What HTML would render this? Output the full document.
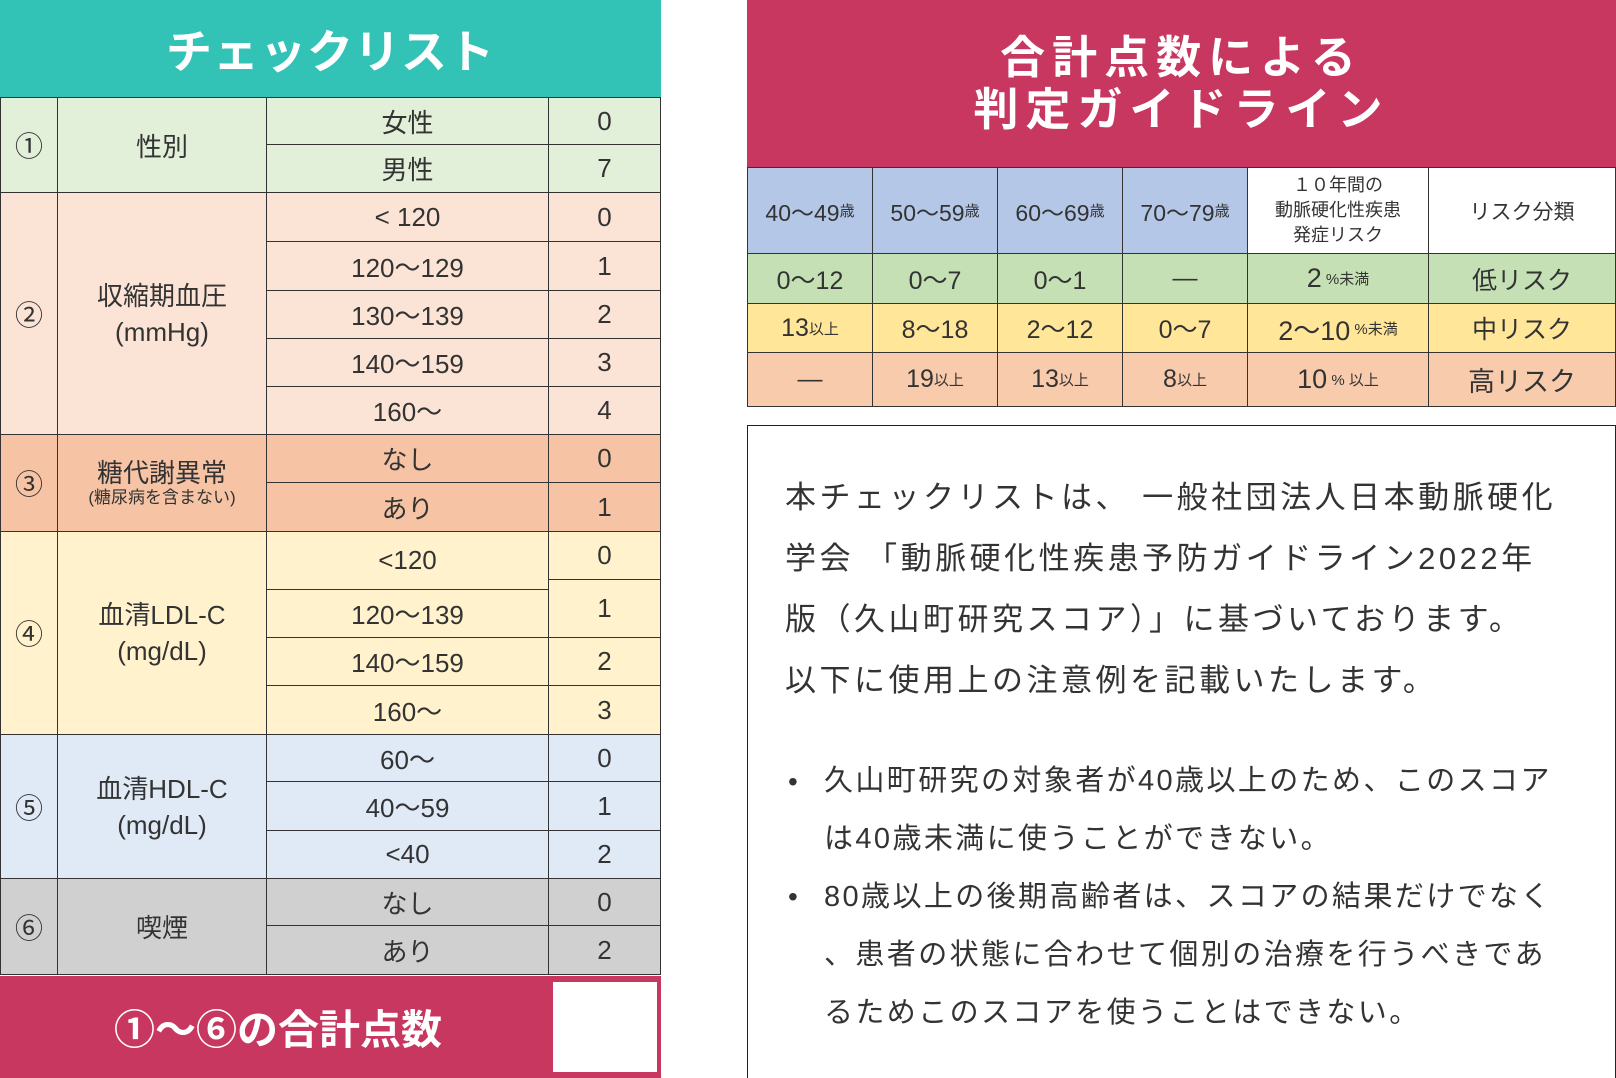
<!DOCTYPE html>
<html><head><meta charset="utf-8"><style>
*{margin:0;padding:0;box-sizing:border-box}
body{width:1616px;height:1078px;background:#fff;position:relative;overflow:hidden;font-family:"Liberation Sans","Noto Sans CJK JP",sans-serif;color:#333}
.a{position:absolute;display:flex;align-items:center;justify-content:center;text-align:center;border:1.5px solid #333}
.t{position:absolute;white-space:nowrap}
.p{letter-spacing:3.5px}
.b{letter-spacing:2.4px}
</style></head><body>
<div class="a" style="left:0;top:0;width:661px;height:97px;background:#33c3b6;border:none;color:#fff;font-size:46px;font-weight:bold;letter-spacing:1px">チェックリスト</div>

<div class="a" style="left:0;top:97px;width:58px;height:96px;background:#e2efd9;font-size:28px">①</div>
<div class="a" style="left:57px;top:97px;width:210px;height:96px;background:#e2efd9;font-size:26px">性別</div>
<div class="a" style="left:266px;top:97px;width:283px;height:48px;background:#e2efd9;font-size:26px">女性</div>
<div class="a" style="left:548px;top:97px;width:113px;height:48px;background:#e2efd9;font-size:26px">0</div>
<div class="a" style="left:266px;top:144px;width:283px;height:49px;background:#e2efd9;font-size:26px">男性</div>
<div class="a" style="left:548px;top:144px;width:113px;height:49px;background:#e2efd9;font-size:26px">7</div>

<div class="a" style="left:0;top:192px;width:58px;height:243px;background:#fbe4d6;font-size:28px">②</div>
<div class="a" style="left:57px;top:192px;width:210px;height:243px;background:#fbe4d6;font-size:26px;line-height:36px">収縮期血圧<br>(mmHg)</div>
<div class="a" style="left:266px;top:192px;width:283px;height:50px;background:#fbe4d6;font-size:26px">&lt; 120</div>
<div class="a" style="left:548px;top:192px;width:113px;height:50px;background:#fbe4d6;font-size:26px">0</div>
<div class="a" style="left:266px;top:241px;width:283px;height:50px;background:#fbe4d6;font-size:26px">120～129</div>
<div class="a" style="left:548px;top:241px;width:113px;height:50px;background:#fbe4d6;font-size:26px">1</div>
<div class="a" style="left:266px;top:290px;width:283px;height:49px;background:#fbe4d6;font-size:26px">130～139</div>
<div class="a" style="left:548px;top:290px;width:113px;height:49px;background:#fbe4d6;font-size:26px">2</div>
<div class="a" style="left:266px;top:338px;width:283px;height:49px;background:#fbe4d6;font-size:26px">140～159</div>
<div class="a" style="left:548px;top:338px;width:113px;height:49px;background:#fbe4d6;font-size:26px">3</div>
<div class="a" style="left:266px;top:386px;width:283px;height:49px;background:#fbe4d6;font-size:26px">160～</div>
<div class="a" style="left:548px;top:386px;width:113px;height:49px;background:#fbe4d6;font-size:26px">4</div>

<div class="a" style="left:0;top:434px;width:58px;height:98px;background:#f6c4a5;font-size:28px">③</div>
<div class="a" style="left:57px;top:434px;width:210px;height:98px;background:#f6c4a5;font-size:26px;flex-direction:column;line-height:30px">糖代謝異常<span style="font-size:17px;line-height:20px">(糖尿病を含まない)</span></div>
<div class="a" style="left:266px;top:434px;width:283px;height:49px;background:#f6c4a5;font-size:26px">なし</div>
<div class="a" style="left:548px;top:434px;width:113px;height:49px;background:#f6c4a5;font-size:26px">0</div>
<div class="a" style="left:266px;top:482px;width:283px;height:50px;background:#f6c4a5;font-size:26px">あり</div>
<div class="a" style="left:548px;top:482px;width:113px;height:50px;background:#f6c4a5;font-size:26px">1</div>

<div class="a" style="left:0;top:531px;width:58px;height:204px;background:#fff2cc;font-size:28px">④</div>
<div class="a" style="left:57px;top:531px;width:210px;height:204px;background:#fff2cc;font-size:26px;line-height:36px">血清LDL-C<br>(mg/dL)</div>
<div class="a" style="left:266px;top:531px;width:283px;height:59px;background:#fff2cc;font-size:26px">&lt;120</div>
<div class="a" style="left:548px;top:531px;width:113px;height:49px;background:#fff2cc;font-size:26px">0</div>
<div class="a" style="left:266px;top:589px;width:283px;height:49px;background:#fff2cc;font-size:26px">120～139</div>
<div class="a" style="left:548px;top:579px;width:113px;height:59px;background:#fff2cc;font-size:26px">1</div>
<div class="a" style="left:266px;top:637px;width:283px;height:49px;background:#fff2cc;font-size:26px">140～159</div>
<div class="a" style="left:548px;top:637px;width:113px;height:49px;background:#fff2cc;font-size:26px">2</div>
<div class="a" style="left:266px;top:685px;width:283px;height:50px;background:#fff2cc;font-size:26px">160～</div>
<div class="a" style="left:548px;top:685px;width:113px;height:50px;background:#fff2cc;font-size:26px">3</div>

<div class="a" style="left:0;top:734px;width:58px;height:145px;background:#dfeaf6;font-size:28px">⑤</div>
<div class="a" style="left:57px;top:734px;width:210px;height:145px;background:#dfeaf6;font-size:26px;line-height:36px">血清HDL-C<br>(mg/dL)</div>
<div class="a" style="left:266px;top:734px;width:283px;height:48px;background:#dfeaf6;font-size:26px">60～</div>
<div class="a" style="left:548px;top:734px;width:113px;height:48px;background:#dfeaf6;font-size:26px">0</div>
<div class="a" style="left:266px;top:781px;width:283px;height:50px;background:#dfeaf6;font-size:26px">40～59</div>
<div class="a" style="left:548px;top:781px;width:113px;height:50px;background:#dfeaf6;font-size:26px">1</div>
<div class="a" style="left:266px;top:830px;width:283px;height:49px;background:#dfeaf6;font-size:26px">&lt;40</div>
<div class="a" style="left:548px;top:830px;width:113px;height:49px;background:#dfeaf6;font-size:26px">2</div>

<div class="a" style="left:0;top:878px;width:58px;height:97px;background:#d0d0d0;font-size:28px">⑥</div>
<div class="a" style="left:57px;top:878px;width:210px;height:97px;background:#d0d0d0;font-size:26px">喫煙</div>
<div class="a" style="left:266px;top:878px;width:283px;height:48px;background:#d0d0d0;font-size:26px">なし</div>
<div class="a" style="left:548px;top:878px;width:113px;height:48px;background:#d0d0d0;font-size:26px">0</div>
<div class="a" style="left:266px;top:925px;width:283px;height:50px;background:#d0d0d0;font-size:26px">あり</div>
<div class="a" style="left:548px;top:925px;width:113px;height:50px;background:#d0d0d0;font-size:26px">2</div>

<div class="a" style="left:0;top:976px;width:661px;height:102px;background:#c8375f;border:none"></div>
<div class="t" style="left:114px;top:996px;color:#fff;font-size:41px;font-weight:bold">①～⑥の合計点数</div>
<div style="position:absolute;left:553px;top:982px;width:104px;height:90px;background:#fff"></div>

<div class="a" style="left:747px;top:0;width:869px;height:167px;background:#c8375f;border:none;color:#fff;font-size:45px;font-weight:bold;letter-spacing:7px;line-height:52px">合計点数による<br>判定ガイドライン</div>

<div class="a" style="left:747px;top:167px;width:126px;height:87px;background:#b4c7e7;font-size:23px">40～49<small style="font-size:15px">歳</small></div>
<div class="a" style="left:872px;top:167px;width:126px;height:87px;background:#b4c7e7;font-size:23px">50～59<small style="font-size:15px">歳</small></div>
<div class="a" style="left:997px;top:167px;width:126px;height:87px;background:#b4c7e7;font-size:23px">60～69<small style="font-size:15px">歳</small></div>
<div class="a" style="left:1122px;top:167px;width:126px;height:87px;background:#b4c7e7;font-size:23px">70～79<small style="font-size:15px">歳</small></div>
<div class="a" style="left:1247px;top:167px;width:182px;height:87px;background:#fff;font-size:18px;line-height:25px">１０年間の<br>動脈硬化性疾患<br>発症リスク</div>
<div class="a" style="left:1428px;top:167px;width:188px;height:87px;background:#fff;font-size:21px">リスク分類</div>

<div class="a" style="left:747px;top:253px;width:126px;height:51px;background:#c5e0b4;font-size:25px">0～12</div>
<div class="a" style="left:872px;top:253px;width:126px;height:51px;background:#c5e0b4;font-size:25px">0～7</div>
<div class="a" style="left:997px;top:253px;width:126px;height:51px;background:#c5e0b4;font-size:25px">0～1</div>
<div class="a" style="left:1122px;top:253px;width:126px;height:51px;background:#c5e0b4;font-size:25px">—</div>
<div class="a" style="left:1247px;top:253px;width:182px;height:51px;background:#c5e0b4;font-size:27px">2<small style="font-size:15px">&nbsp;%未満</small></div>
<div class="a" style="left:1428px;top:253px;width:188px;height:51px;background:#c5e0b4;font-size:25px">低リスク</div>

<div class="a" style="left:747px;top:303px;width:126px;height:50px;background:#ffe699;font-size:25px">13<small style="font-size:15px">以上</small></div>
<div class="a" style="left:872px;top:303px;width:126px;height:50px;background:#ffe699;font-size:25px">8～18</div>
<div class="a" style="left:997px;top:303px;width:126px;height:50px;background:#ffe699;font-size:25px">2～12</div>
<div class="a" style="left:1122px;top:303px;width:126px;height:50px;background:#ffe699;font-size:25px">0～7</div>
<div class="a" style="left:1247px;top:303px;width:182px;height:50px;background:#ffe699;font-size:27px">2～10<small style="font-size:15px">&nbsp;%未満</small></div>
<div class="a" style="left:1428px;top:303px;width:188px;height:50px;background:#ffe699;font-size:25px">中リスク</div>

<div class="a" style="left:747px;top:352px;width:126px;height:55px;background:#f8cbad;font-size:25px">—</div>
<div class="a" style="left:872px;top:352px;width:126px;height:55px;background:#f8cbad;font-size:25px">19<small style="font-size:15px">以上</small></div>
<div class="a" style="left:997px;top:352px;width:126px;height:55px;background:#f8cbad;font-size:25px">13<small style="font-size:15px">以上</small></div>
<div class="a" style="left:1122px;top:352px;width:126px;height:55px;background:#f8cbad;font-size:25px">8<small style="font-size:15px">以上</small></div>
<div class="a" style="left:1247px;top:352px;width:182px;height:55px;background:#f8cbad;font-size:27px">10<small style="font-size:15px">&nbsp;%&nbsp;以上</small></div>
<div class="a" style="left:1428px;top:352px;width:188px;height:55px;background:#f8cbad;font-size:27px">高リスク</div>

<div style="position:absolute;left:747px;top:425px;width:869px;height:653px;border:1.5px solid #222;border-bottom:none"></div>
<div class="t p" style="left:785px;top:478px;font-size:31px;line-height:40px">本チェックリストは、 一般社団法人日本動脈硬化</div>
<div class="t p" style="left:785px;top:539px;font-size:31px;line-height:40px">学会 「動脈硬化性疾患予防ガイドライン2022年</div>
<div class="t p" style="left:785px;top:600px;font-size:31px;line-height:40px">版（久山町研究スコア）」に基づいております。</div>
<div class="t p" style="left:785px;top:661px;font-size:31px;line-height:40px">以下に使用上の注意例を記載いたします。</div>
<div class="t" style="left:788px;top:762px;font-size:28px;line-height:40px">•</div>
<div class="t b" style="left:824px;top:761px;font-size:29px;line-height:40px">久山町研究の対象者が40歳以上のため、このスコア</div>
<div class="t b" style="left:824px;top:819px;font-size:29px;line-height:40px">は40歳未満に使うことができない。</div>
<div class="t" style="left:788px;top:877px;font-size:28px;line-height:40px">•</div>
<div class="t b" style="left:824px;top:877px;font-size:29px;line-height:40px">80歳以上の後期高齢者は、スコアの結果だけでなく</div>
<div class="t b" style="left:824px;top:935px;font-size:29px;line-height:40px">、患者の状態に合わせて個別の治療を行うべきであ</div>
<div class="t b" style="left:824px;top:993px;font-size:29px;line-height:40px">るためこのスコアを使うことはできない。</div>
</body></html>
